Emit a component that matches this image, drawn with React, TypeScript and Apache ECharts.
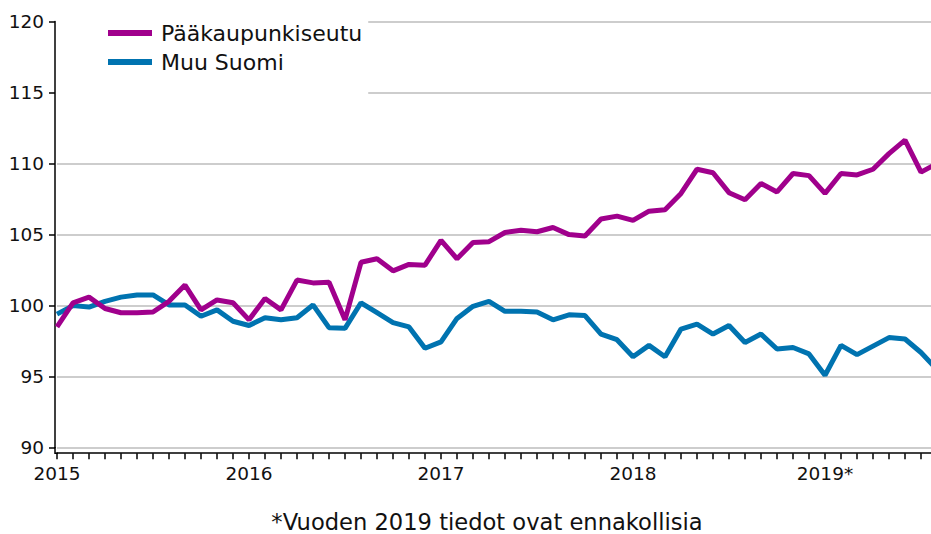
import React, { useEffect, useRef } from "react";
import * as echarts from "echarts";

const startYear = 2015;
const monthCount = 56; // Jan 2015 – Aug 2019
const yearLabels = ["2015", "2016", "2017", "2018", "2019*"];
const seriesNames = ["Pääkaupunkiseutu", "Muu Suomi"];
const footnote = "*Vuoden 2019 tiedot ovat ennakollisia";

const months: string[] = [];
for (let i = 0; i < monthCount; i++) {
  const y = startYear + Math.floor(i / 12);
  const m = (i % 12) + 1;
  months.push(`${y}M${m < 10 ? "0" + m : m}`);
}

const paakaupunkiseutu = [
  98.5, 100.2, 100.6, 99.8, 99.5, 99.5, 99.55, 100.3, 101.45, 99.7,
  100.4, 100.2, 99.0, 100.5, 99.7, 101.8, 101.6, 101.65, 99.0, 103.05,
  103.3, 102.45, 102.9, 102.85, 104.6, 103.3, 104.45, 104.5, 105.15, 105.3,
  105.2, 105.5, 105.0, 104.9, 106.1, 106.3, 106.0, 106.65, 106.75, 107.9,
  109.6, 109.35, 107.95, 107.45, 108.6, 108.0, 109.3, 109.15, 107.9, 109.3,
  109.2, 109.6, 110.7, 111.65, 109.4, 110.0,
];

const muuSuomi = [
  99.4, 100.0, 99.9, 100.3, 100.6, 100.75, 100.75, 100.05, 100.05, 99.25,
  99.7, 98.9, 98.6, 99.15, 99.0, 99.15, 100.05, 98.45, 98.4, 100.2,
  99.5, 98.8, 98.5, 97.0, 97.45, 99.1, 99.95, 100.3, 99.6, 99.6,
  99.55, 99.0, 99.35, 99.3, 98.0, 97.6, 96.4, 97.2, 96.4, 98.35,
  98.7, 98.0, 98.6, 97.4, 98.0, 96.95, 97.05, 96.6, 95.1, 97.2,
  96.55, 97.15, 97.75, 97.65, 96.7, 95.5,
];

const colors = ["#a0008c", "#0073b0"];
const FONT = "'DejaVu Sans', sans-serif";

export default function App() {
  const ref = useRef<HTMLDivElement>(null);
  useEffect(() => {
    document.body.style.margin = "0";
    if (!ref.current) return;
    const chart = echarts.init(ref.current, undefined, { renderer: "svg" });
    chart.setOption({
      animation: false,
      backgroundColor: "#ffffff",
      grid: {
        left: 57,
        right: -6,
        top: 21.5,
        bottom: 86.3,
        containLabel: false,
        outerBoundsMode: "none",
      },
      legend: {
        orient: "vertical",
        left: 57,
        top: 10,
        padding: [11, 6, 26, 51],
        backgroundColor: "#ffffff",
        itemWidth: 44,
        itemHeight: 6,
        itemGap: 5,
        icon: "rect",
        data: seriesNames,
        textStyle: {
          fontFamily: FONT,
          fontSize: 22,
          lineHeight: 24,
          color: "#111111",
          padding: [0, 0, 0, 4],
        },
      },
      xAxis: {
        type: "category",
        data: months,
        boundaryGap: false,
        offset: 5.5,
        axisLine: { show: true, lineStyle: { color: "#000000", width: 1.5 } },
        axisTick: {
          show: true,
          interval: 0,
          length: 6,
          lineStyle: { color: "#000000", width: 1.5 },
        },
        axisLabel: {
          interval: (index: number) => index % 12 === 0,
          formatter: (_v: string, index: number) =>
            index % 12 === 0 ? yearLabels[index / 12] : "",
          fontFamily: FONT,
          fontSize: 18.5,
          color: "#111111",
          margin: 11,
        },
        splitLine: { show: false },
      },
      yAxis: {
        type: "value",
        min: 90,
        max: 120,
        interval: 5,
        offset: 2,
        axisLine: { show: true, lineStyle: { color: "#000000", width: 1.5 } },
        axisTick: { show: true, length: 6, lineStyle: { color: "#000000", width: 1.5 } },
        axisLabel: {
          fontFamily: FONT,
          fontSize: 18.5,
          color: "#111111",
          margin: 11,
        },
        splitLine: { show: true, lineStyle: { color: "#cdcdcd", width: 2 } },
      },
      series: [
        {
          name: seriesNames[0],
          type: "line",
          data: paakaupunkiseutu,
          showSymbol: false,
          symbol: "none",
          color: colors[0],
          lineStyle: { color: colors[0], width: 5 },
          z: 3,
        },
        {
          name: seriesNames[1],
          type: "line",
          data: muuSuomi,
          showSymbol: false,
          symbol: "none",
          color: colors[1],
          lineStyle: { color: colors[1], width: 5 },
          z: 2,
        },
      ],
      graphic: [
        {
          type: "polyline",
          silent: true,
          shape: { points: [[55, 447], [55, 453.3], [58, 453.3]] },
          style: { stroke: "#000000", lineWidth: 1.5, fill: "none" },
        },
        {
          type: "text",
          x: 487,
          y: 522,
          silent: true,
          style: {
            text: footnote,
            font: `22.6px ${FONT}`,
            fill: "#111111",
            textAlign: "center",
            textVerticalAlign: "middle",
          },
        },
      ],
    });
    return () => chart.dispose();
  }, []);
  return (
    <div
      ref={ref}
      style={{ position: "fixed", left: 0, top: 0, width: 931, height: 534 }}
    />
  );
}
